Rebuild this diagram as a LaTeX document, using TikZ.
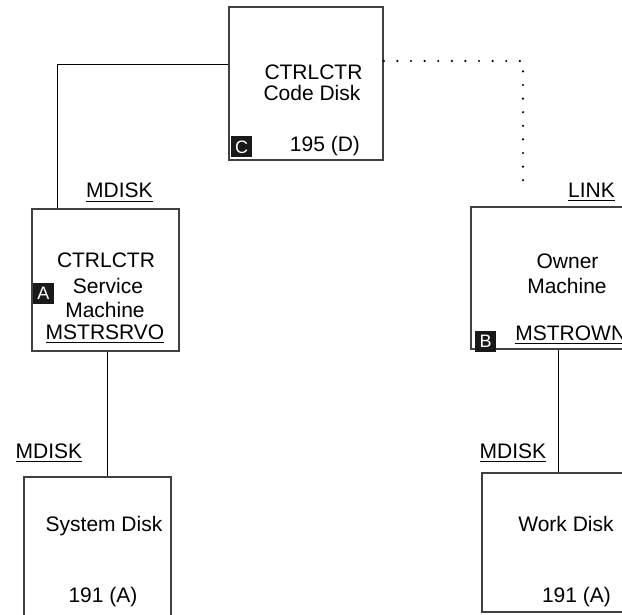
\documentclass[tikz,border=0pt]{standalone}
\usepackage{fontspec}
\setmainfont{Liberation Sans}
\usetikzlibrary{positioning}

\tikzset{
  disk/.style={draw=black!75, line width=0.8pt, inner sep=0pt},
  txt/.style={font=\fontsize{10.5}{12}\selectfont, inner sep=0pt, anchor=base},
  tag/.style={fill=black!90, text=white, font=\fontsize{9}{10}\selectfont, inner sep=0pt, minimum width=10.5pt, minimum height=10.5pt},
  wire/.style={line width=0.5pt},
  dots/.style={line width=1.2pt, dash pattern=on 0pt off 6.8pt, line cap=round}
}

\begin{document}
\begin{tikzpicture}[x=0.5pt,y=-0.5pt]
  \useasboundingbox (0,0) rectangle (622,615);
  \clip (0,0) rectangle (622,615);
  % boxes
  \node[disk, minimum width=77pt, minimum height=76.5pt] (code) at (306,83.5) {};
  \node[disk, minimum width=73.5pt, minimum height=71pt] (srv) at (105.5,280) {};
  \node[disk, minimum width=81.5pt, minimum height=71pt] (own) at (552.5,278) {};
  \node[disk, minimum width=73.5pt, minimum height=74pt] (sys) at (97.5,551) {};
  \node[disk, minimum width=76pt, minimum height=69.5pt] (work) at (558,542.5) {};
  \coordinate (lnk) at (523,192);
\draw[wire] ([yshift=9.25pt]code.west) -| ([xshift=13pt]srv.north west);
\draw[dots] ([yshift=11.25pt]code.east) -| (lnk);
\draw[wire] ([xshift=0.75pt]srv.south) -- ([xshift=0.75pt]srv.south |- sys.north);
\draw[wire] ([xshift=2.75pt]own.south) -- ([xshift=2.75pt]own.south |- work.north);
  % code disk
  \node[txt] (cname) at (313.5,80) {CTRLCTR};
  \node[txt] (cdisk) at (312,100.5) {Code Disk};
  \node[txt] (caddr) at (325,152) {195 (D)};
  \node[tag] (ctag) at (241.5,147) {C};
  % service machine
  \node[txt] (smd) at (119.5,198) {\underline{MDISK}};
  \node[txt] (sname) at (106,268) {CTRLCTR};
  \node[txt] (ssrv) at (108,293) {Service};
  \node[txt] (smach) at (105,317) {Machine};
  \node[txt] (sid) at (105,339) {\underline{MSTRSRVO}};
  \node[tag] (stag) at (43.5,293.5) {A};
  % owner machine
  \node[txt] (olink) at (591.5,198) {\underline{LINK}};
  \node[txt] (oname) at (567.5,269) {Owner};
  \node[txt] (omach) at (567,293) {Machine};
  \node[txt, anchor=base west] (oid) at (515,340) {\underline{MSTROWN}};
  \node[tag] (otag) at (485.5,341) {B};
  % minidisks
  \node[txt] (ymd) at (49,458) {\underline{MDISK}};
  \node[txt] (yname) at (104,531) {System Disk};
  \node[txt] (yaddr) at (103,602) {191 (A)};
  \node[txt] (wmd) at (513,458) {\underline{MDISK}};
  \node[txt] (wname) at (566,531) {Work Disk};
  \node[txt] (waddr) at (576.5,602) {191 (A)};
\end{tikzpicture}
\end{document}
